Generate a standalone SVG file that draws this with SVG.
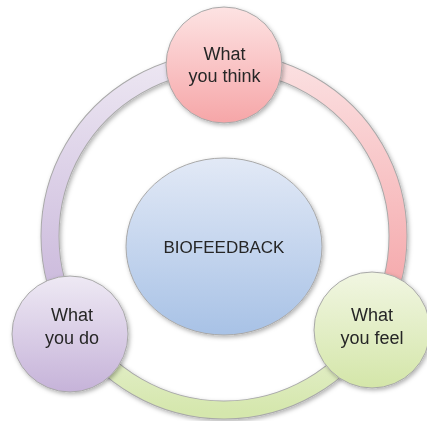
<svg xmlns="http://www.w3.org/2000/svg" width="427" height="421" viewBox="0 0 427 421">
<defs>
<style>
.lbl{font-family:"Liberation Sans",Arial,sans-serif;font-size:18px;fill:#262626;text-anchor:middle}
.ctr{font-size:17px}
.edge{fill:none;stroke:#a9a9a9;stroke-width:19}
.band{fill:none;stroke-width:17}
.node{stroke:#a8a8a8;stroke-width:1}
</style>
<filter id="sh" x="-20%" y="-20%" width="140%" height="140%">
<feDropShadow dx="1.5" dy="2" stdDeviation="2" flood-color="#000" flood-opacity="0.3"/>
</filter>
<linearGradient id="gPinkArc" gradientUnits="userSpaceOnUse" x1="0" y1="62" x2="0" y2="323">
<stop offset="0" stop-color="#fbe0e1"/><stop offset="1" stop-color="#f4a1a4"/>
</linearGradient>
<linearGradient id="gGreenArc" gradientUnits="userSpaceOnUse" x1="0" y1="323" x2="0" y2="412">
<stop offset="0" stop-color="#eaf2d6"/><stop offset="1" stop-color="#d5e7ad"/>
</linearGradient>
<linearGradient id="gPurpArc" gradientUnits="userSpaceOnUse" x1="0" y1="62" x2="0" y2="323">
<stop offset="0" stop-color="#ece6f2"/><stop offset="1" stop-color="#c7b4d9"/>
</linearGradient>
<linearGradient id="gPink" x1="0" y1="0" x2="0" y2="1">
<stop offset="0" stop-color="#fde3e3"/><stop offset="1" stop-color="#f6a6a8"/>
</linearGradient>
<linearGradient id="gGreen" x1="0" y1="0" x2="0" y2="1">
<stop offset="0" stop-color="#f1f6e2"/><stop offset="1" stop-color="#d4e6a9"/>
</linearGradient>
<linearGradient id="gPurp" x1="0" y1="0" x2="0" y2="1">
<stop offset="0" stop-color="#eee9f4"/><stop offset="1" stop-color="#c6b3d9"/>
</linearGradient>
<linearGradient id="gBlue" x1="0" y1="0" x2="0" y2="1">
<stop offset="0" stop-color="#e2e9f6"/><stop offset="1" stop-color="#a8c2e6"/>
</linearGradient>
</defs>
<rect width="427" height="421" fill="#ffffff"/>
<g id="connectors" filter="url(#sh)">
<path class="edge" d="M224 62 A174 174 0 0 1 374.7 323"/>
<path class="band" stroke="url(#gPinkArc)" d="M224 62 A174 174 0 0 1 374.7 323"/>
<path class="edge" d="M374.7 323 A174 174 0 0 1 73.3 323"/>
<path class="band" stroke="url(#gGreenArc)" d="M374.7 323 A174 174 0 0 1 73.3 323"/>
<path class="edge" d="M73.3 323 A174 174 0 0 1 224 62"/>
<path class="band" stroke="url(#gPurpArc)" d="M73.3 323 A174 174 0 0 1 224 62"/>
</g>
<g id="center" filter="url(#sh)">
<ellipse class="node" cx="224" cy="246.5" rx="98" ry="88.5" fill="url(#gBlue)"/>
<text class="lbl ctr" x="224" y="253">BIOFEEDBACK</text>
</g>
<g id="think" filter="url(#sh)">
<circle class="node" cx="224" cy="65" r="58" fill="url(#gPink)"/>
<text class="lbl" x="224.5" y="60">What</text>
<text class="lbl" x="224.5" y="82">you think</text>
</g>
<g id="feel" filter="url(#sh)">
<circle class="node" cx="372" cy="330" r="58" fill="url(#gGreen)"/>
<text class="lbl" x="372" y="321">What</text>
<text class="lbl" x="372" y="344">you feel</text>
</g>
<g id="do" filter="url(#sh)">
<circle class="node" cx="70" cy="334" r="58" fill="url(#gPurp)"/>
<text class="lbl" x="72" y="321">What</text>
<text class="lbl" x="72" y="344">you do</text>
</g>
</svg>
